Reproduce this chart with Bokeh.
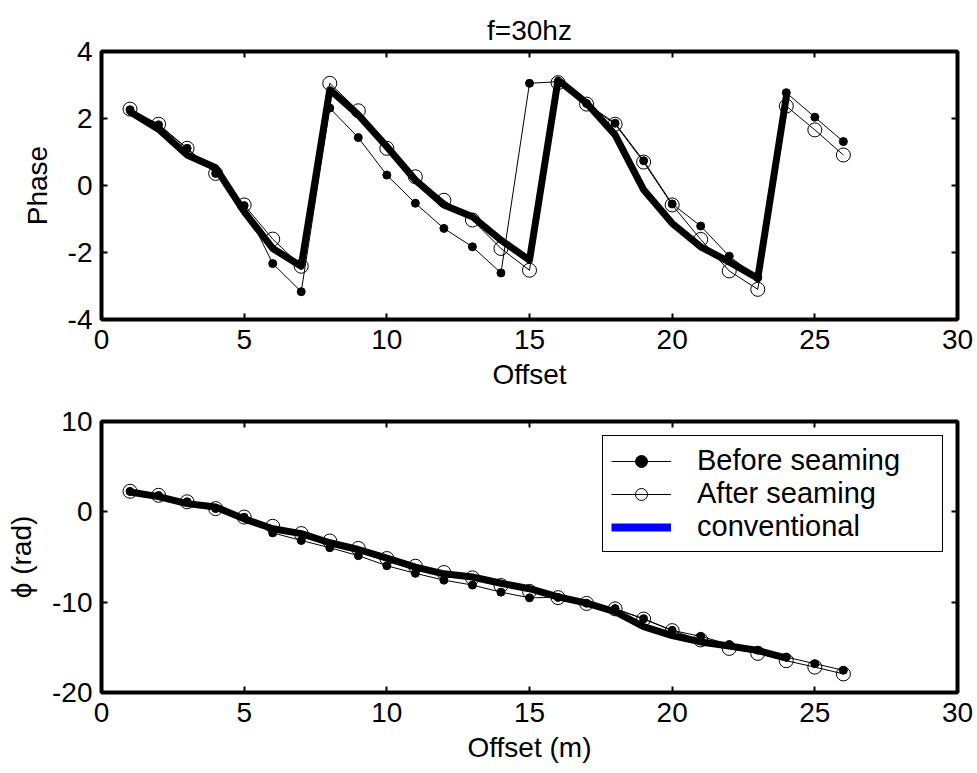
from bokeh.plotting import figure
from bokeh.models import Range1d, FixedTicker, LinearAxis, Legend, LegendItem
from bokeh.layouts import column
from bokeh.embed import file_html
from bokeh.resources import INLINE

# ---------------- data ----------------
offset = list(range(1, 27))
offset_conv = list(range(1, 25))

phase_before = [2.26, 1.81, 1.11, 0.36, -0.60, -2.33, -3.17, 2.31, 1.43, 0.31,
                -0.53, -1.28, -1.83, -2.61, 3.05, 3.10, 2.45, 1.86, 0.74, -0.55,
                -1.21, -2.11, -2.75, 2.77, 2.04, 1.31]
phase_after = [2.28, 1.83, 1.11, 0.36, -0.58, -1.60, -2.41, 3.05, 2.23, 1.11,
               0.26, -0.44, -1.03, -1.88, -2.53, 3.07, 2.43, 1.83, 0.70, -0.58,
               -1.61, -2.55, -3.10, 2.37, 1.66, 0.91]
phase_conv = [2.20, 1.68, 0.91, 0.53, -0.78, -1.88, -2.41, 2.86, 2.11, 1.16,
              0.16, -0.58, -0.93, -1.63, -2.23, 3.15, 2.46, 1.51, -0.13, -1.13,
              -1.83, -2.28, -2.77, 2.65]

unwrap_before = [2.26, 1.81, 1.11, 0.36, -0.60, -2.33, -3.17, -3.97, -4.85, -5.97,
                 -6.81, -7.56, -8.11, -8.89, -9.52, -9.47, -10.12, -10.71, -11.83, -13.12,
                 -13.78, -14.68, -15.32, -16.08, -16.81, -17.54]
unwrap_after = [2.28, 1.83, 1.11, 0.36, -0.58, -1.60, -2.41, -3.23, -4.05, -5.17,
                -6.02, -6.72, -7.31, -8.16, -8.81, -9.50, -10.14, -10.74, -11.87, -13.15,
                -14.18, -15.12, -15.67, -16.48, -17.19, -17.94]
unwrap_conv = [2.20, 1.68, 0.91, 0.53, -0.78, -1.88, -2.41, -3.42, -4.17, -5.12,
               -6.12, -6.86, -7.21, -7.91, -8.51, -9.42, -10.11, -11.06, -12.70, -13.70,
               -14.40, -14.85, -15.34, -16.20]

x_ticks = [0, 5, 10, 15, 20, 25, 30]
top_y_ticks = [-4, -2, 0, 2, 4]
bottom_y_ticks = [-20, -10, 0, 10]

series_labels = ["Before seaming", "After seaming", "conventional"]
title_text = "f=30hz"
top_xlabel = "Offset"
top_ylabel = "Phase"
bottom_xlabel = "Offset (m)"
bottom_ylabel = "\u03d5 (rad)"

FONT = "Liberation Sans"
FS = "28px"


def style_axis(ax, ticks, show_labels=True):
    ax.ticker = FixedTicker(ticks=ticks)
    ax.axis_line_color = None
    ax.major_tick_in = 6
    ax.major_tick_out = 0
    ax.major_tick_line_width = 2
    ax.major_tick_line_color = "black"
    ax.minor_tick_line_color = None
    ax.major_label_text_font = FONT
    if show_labels:
        ax.major_label_text_color = "black"
        ax.major_label_text_font_size = FS
        ax.major_label_overrides = {t: str(t) for t in ticks}
    else:
        ax.major_label_text_color = None
        ax.major_label_text_font_size = "1px"
        ax.major_label_standoff = 0


def make_fig(ylo, yhi, yticks, xlabel, ylabel, frame_h, btop, bbot):
    p = figure(frame_width=856, frame_height=frame_h,
               min_border_left=101, min_border_right=20,
               min_border_top=btop, min_border_bottom=bbot,
               x_range=Range1d(0, 30), y_range=Range1d(ylo, yhi),
               output_backend="svg", toolbar_location=None,
               background_fill_color="white", border_fill_color="white")
    p.grid.visible = False
    p.outline_line_color = "black"
    p.outline_line_width = 4
    p.outline_line_alpha = 1.0
    style_axis(p.xaxis[0], x_ticks)
    style_axis(p.yaxis[0], yticks)
    p.xaxis[0].major_label_standoff = 10
    p.yaxis[0].major_label_standoff = 9
    p.xaxis[0].axis_label = xlabel
    p.yaxis[0].axis_label = ylabel
    for ax in (p.xaxis[0], p.yaxis[0]):
        ax.axis_label_text_font = FONT
        ax.axis_label_text_font_size = FS
        ax.axis_label_text_font_style = "normal"
        ax.axis_label_text_color = "black"
    p.xaxis[0].axis_label_standoff = 7
    p.yaxis[0].axis_label_standoff = 12
    top_ax = LinearAxis()
    style_axis(top_ax, x_ticks, show_labels=False)
    p.add_layout(top_ax, "above")
    right_ax = LinearAxis()
    style_axis(right_ax, yticks, show_labels=False)
    p.add_layout(right_ax, "right")
    return p


# ---------------- top panel: wrapped phase ----------------
p1 = make_fig(-4, 4, top_y_ticks, top_xlabel, top_ylabel, 268, 51, 72)
p1.title.text = title_text
p1.title.align = "center"
p1.title.text_font = FONT
p1.title.text_font_size = FS
p1.title.text_font_style = "normal"
p1.title.text_color = "black"
p1.title.text_line_height = 0.75
p1.title.standoff = 12

p1.line(offset, phase_before, line_color="black", line_width=1)
p1.scatter(offset, phase_before, marker="circle", size=8,
           fill_color="black", line_color="black")
p1.line(offset, phase_after, line_color="black", line_width=1)
p1.scatter(offset, phase_after, marker="circle", size=14,
           fill_color=None, line_color="black", line_width=1)
p1.line(offset_conv, phase_conv, line_color="black", line_width=7,
        line_join="round", line_cap="round")

# ---------------- bottom panel: unwrapped phase ----------------
p2 = make_fig(-20, 10, bottom_y_ticks, bottom_xlabel, bottom_ylabel, 271, 29, 82)

rb_line = p2.line(offset, unwrap_before, line_color="black", line_width=1)
rb_dot = p2.scatter(offset, unwrap_before, marker="circle", size=8,
                    fill_color="black", line_color="black")
ra_line = p2.line(offset, unwrap_after, line_color="black", line_width=1)
ra_circ = p2.scatter(offset, unwrap_after, marker="circle", size=14,
                     fill_color=None, line_color="black", line_width=1)
p2.line(offset_conv, unwrap_conv, line_color="black", line_width=7,
        line_join="round", line_cap="round")
r_key = p2.line(x=[float("nan")], y=[float("nan")], line_color="#0000ff", line_width=8)

legend = Legend(items=[
    LegendItem(label=series_labels[0], renderers=[rb_line, rb_dot]),
    LegendItem(label=series_labels[1], renderers=[ra_line, ra_circ]),
    LegendItem(label=series_labels[2], renderers=[r_key]),
], location="top_right")
legend.border_line_color = "black"
legend.border_line_width = 1
legend.border_line_alpha = 1.0
legend.background_fill_color = "white"
legend.background_fill_alpha = 1.0
legend.label_text_font = FONT
legend.label_text_font_size = "29px"
legend.label_text_color = "black"
legend.glyph_width = 60
legend.glyph_height = 30
legend.label_height = 30
legend.label_width = 237
legend.label_standoff = 26
legend.padding = 8
legend.spacing = 0
legend.margin = 14
p2.add_layout(legend)

layout = column(p1, p2, spacing=0)
open("out.html", "w").write(file_html(layout, INLINE))
